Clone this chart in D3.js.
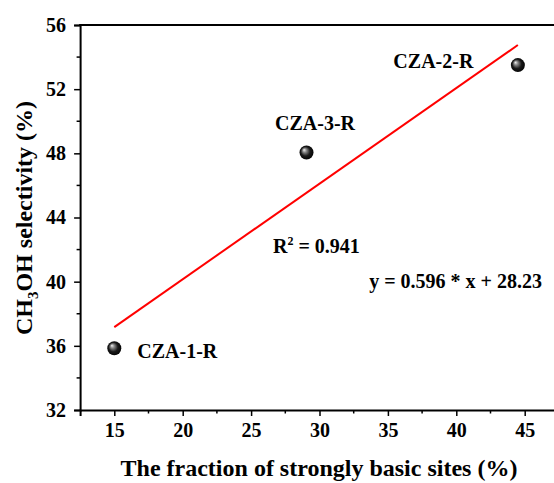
<!DOCTYPE html>
<html>
<head>
<meta charset="utf-8">
<script src="https://cdn.jsdelivr.net/npm/d3@7"></script>
<style>
  html, body { margin: 0; padding: 0; background: #ffffff; }
  svg { display: block; }
  text { font-family: "Liberation Serif", "Times New Roman", serif; font-weight: bold; fill: #000; }
</style>
</head>
<body>
<svg id="chart" width="554" height="483"></svg>
<script>
// Samples: fraction of strongly basic sites (%) vs CH3OH selectivity (%)
const sampleNames = ["CZA-1-R", "CZA-3-R", "CZA-2-R"];
const basicFraction = [15.0, 29.05, 44.5];
const methanolSelectivity = [35.85, 48.05, 53.5];

// Linear fit reported on the chart
const fitSlope = 0.596;
const fitIntercept = 28.23;
const fitR2 = 0.941;

const xTicks = [15, 20, 25, 30, 35, 40, 45];
const yTicks = [32, 36, 40, 44, 48, 52, 56];

const svg = d3.select("#chart");
const W = 554, H = 483;

const x = d3.scaleLinear().domain([12.5, 47.5]).range([80.1, 558.9]);
const y = d3.scaleLinear().domain([32, 56]).range([410, 25]);

// Sphere-like marker fill
const defs = svg.append("defs");
const grad = defs.append("radialGradient")
  .attr("id", "ball")
  .attr("cx", "50%").attr("cy", "50%").attr("r", "55%")
  .attr("fx", "32%").attr("fy", "30%");
grad.append("stop").attr("offset", "0%").attr("stop-color", "#f4f4f4");
grad.append("stop").attr("offset", "25%").attr("stop-color", "#8a8a8a");
grad.append("stop").attr("offset", "60%").attr("stop-color", "#1a1a1a");
grad.append("stop").attr("offset", "100%").attr("stop-color", "#000000");

// Bottom axis with major + minor ticks
const xAxis = d3.axisBottom(x).tickValues(xTicks).tickSize(6).tickPadding(7).tickFormat(d3.format("d"));
const gx = svg.append("g").attr("transform", `translate(0,${y(32)})`).call(xAxis);
const xMinor = xTicks.slice(0, -1).map(v => v + 2.5);
svg.append("g").selectAll("line").data(xMinor).join("line")
  .attr("x1", d => x(d)).attr("x2", d => x(d))
  .attr("y1", y(32)).attr("y2", y(32) + 3.5)
  .attr("stroke", "#000").attr("stroke-width", 1.5);

// Left axis with major + minor ticks
const yAxis = d3.axisLeft(y).tickValues(yTicks).tickSize(6).tickPadding(8).tickFormat(d3.format("d"));
const gy = svg.append("g").attr("transform", `translate(${x(12.5)},0)`).call(yAxis);
const yMinor = yTicks.slice(0, -1).map(v => v + 2);
svg.append("g").selectAll("line").data(yMinor).join("line")
  .attr("x1", x(12.5)).attr("x2", x(12.5) - 3.5)
  .attr("y1", d => y(d)).attr("y2", d => y(d))
  .attr("stroke", "#000").attr("stroke-width", 1.5);

[gx, gy].forEach(g => {
  g.select(".domain").attr("stroke", "#000").attr("stroke-width", 2);
  g.selectAll(".tick line").attr("stroke", "#000").attr("stroke-width", 1.5);
  g.selectAll(".tick text")
    .style("font-family", '"Liberation Serif", "Times New Roman", serif')
    .style("font-weight", "bold").style("font-size", "20px").attr("fill", "#000");
});

// Top frame line
svg.append("line")
  .attr("x1", x(12.5) - 1).attr("x2", W)
  .attr("y1", y(56)).attr("y2", y(56))
  .attr("stroke", "#000").attr("stroke-width", 2);

// Fitted line over the data range
const xmin = d3.min(basicFraction), xmax = d3.max(basicFraction);
svg.append("line")
  .attr("x1", x(xmin)).attr("y1", y(fitSlope * xmin + fitIntercept))
  .attr("x2", x(xmax)).attr("y2", y(fitSlope * xmax + fitIntercept))
  .attr("stroke", "#ff0000").attr("stroke-width", 2);

// Data points
const pts = basicFraction.map((v, i) => ({ x: v, y: methanolSelectivity[i], name: sampleNames[i] }));
svg.append("g").selectAll("circle").data(pts).join("circle")
  .attr("cx", d => x(d.x)).attr("cy", d => y(d.y)).attr("r", 7)
  .attr("fill", "url(#ball)");

// Point labels
const labelOffsets = { "CZA-1-R": [23, 10, "start"], "CZA-3-R": [8.5, -22.5, "middle"], "CZA-2-R": [-44.5, 3, "end"] };
svg.append("g").selectAll("text").data(pts).join("text")
  .attr("x", d => x(d.x) + labelOffsets[d.name][0])
  .attr("y", d => y(d.y) + labelOffsets[d.name][1])
  .attr("text-anchor", d => labelOffsets[d.name][2])
  .style("font-size", "20px")
  .text(d => d.name);

// Fit annotations
const r2 = svg.append("text").attr("x", 273).attr("y", 253).style("font-size", "20px");
r2.append("tspan").text("R");
r2.append("tspan").attr("dy", -8).style("font-size", "12px").text("2");
r2.append("tspan").attr("dy", 8).text(` = ${fitR2.toFixed(3)}`);

svg.append("text").attr("x", 542).attr("y", 288).attr("text-anchor", "end")
  .style("font-size", "20px")
  .text(`y = ${fitSlope} * x + ${fitIntercept}`);

// Axis titles
svg.append("text").attr("x", 319).attr("y", 476).attr("text-anchor", "middle")
  .style("font-size", "24px")
  .text("The fraction of strongly basic sites (%)");

const yt = svg.append("text")
  .attr("transform", `translate(32,218) rotate(-90)`)
  .attr("text-anchor", "middle")
  .style("font-size", "24px");
yt.append("tspan").text("CH");
yt.append("tspan").attr("dy", 6).style("font-size", "15px").text("3");
yt.append("tspan").attr("dy", -6).text("OH selectivity (%)");
</script>
</body>
</html>
